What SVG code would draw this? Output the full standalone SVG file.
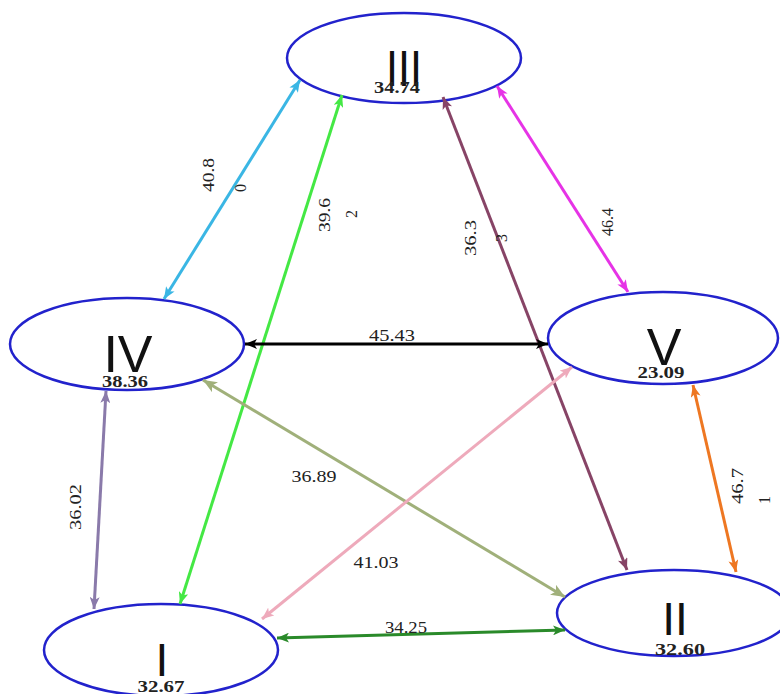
<svg xmlns="http://www.w3.org/2000/svg" width="780" height="694" viewBox="0 0 780 694">
  <style>
    .node ellipse { fill: #ffffff; stroke: #2222cc; stroke-width: 2.5; }
    .roman { font-family: "Liberation Sans", Arial, sans-serif; fill: #111111; text-anchor: middle; }
    .val { font-family: "Liberation Serif", "Times New Roman", "DejaVu Serif", serif; font-weight: bold; font-size: 16px; fill: #222222; text-anchor: middle; }
    .elabel { font-family: "Liberation Serif", "Times New Roman", "DejaVu Serif", serif; font-size: 16px; fill: #222222; text-anchor: middle; }
    .edge { fill: none; stroke-width: 3; }
  </style>
  <defs>
    <marker id="m-cyan" viewBox="0 0 12 10" refX="12" refY="5" markerWidth="12" markerHeight="10" markerUnits="userSpaceOnUse" orient="auto-start-reverse"><path d="M0,0 L12,5 L0,10 L3,5 Z" fill="#3ab6e4"/></marker>
    <marker id="m-lime" viewBox="0 0 12 10" refX="12" refY="5" markerWidth="12" markerHeight="10" markerUnits="userSpaceOnUse" orient="auto-start-reverse"><path d="M0,0 L12,5 L0,10 L3,5 Z" fill="#44e844"/></marker>
    <marker id="m-brown" viewBox="0 0 12 10" refX="12" refY="5" markerWidth="12" markerHeight="10" markerUnits="userSpaceOnUse" orient="auto-start-reverse"><path d="M0,0 L12,5 L0,10 L3,5 Z" fill="#874466"/></marker>
    <marker id="m-magenta" viewBox="0 0 12 10" refX="12" refY="5" markerWidth="12" markerHeight="10" markerUnits="userSpaceOnUse" orient="auto-start-reverse"><path d="M0,0 L12,5 L0,10 L3,5 Z" fill="#e633e6"/></marker>
    <marker id="m-black" viewBox="0 0 12 10" refX="12" refY="5" markerWidth="12" markerHeight="10" markerUnits="userSpaceOnUse" orient="auto-start-reverse"><path d="M0,0 L12,5 L0,10 L3,5 Z" fill="#000000"/></marker>
    <marker id="m-lavender" viewBox="0 0 12 10" refX="12" refY="5" markerWidth="12" markerHeight="10" markerUnits="userSpaceOnUse" orient="auto-start-reverse"><path d="M0,0 L12,5 L0,10 L3,5 Z" fill="#8a7aaa"/></marker>
    <marker id="m-olive" viewBox="0 0 12 10" refX="12" refY="5" markerWidth="14" markerHeight="12" markerUnits="userSpaceOnUse" orient="auto-start-reverse"><path d="M0,0 L12,5 L0,10 L3,5 Z" fill="#a0b07a"/></marker>
    <marker id="m-pink" viewBox="0 0 12 10" refX="12" refY="5" markerWidth="12" markerHeight="10" markerUnits="userSpaceOnUse" orient="auto-start-reverse"><path d="M0,0 L12,5 L0,10 L3,5 Z" fill="#eeaabb"/></marker>
    <marker id="m-orange" viewBox="0 0 12 10" refX="12" refY="5" markerWidth="12" markerHeight="10" markerUnits="userSpaceOnUse" orient="auto-start-reverse"><path d="M0,0 L12,5 L0,10 L3,5 Z" fill="#ee7722"/></marker>
    <marker id="m-dkgreen" viewBox="0 0 12 10" refX="12" refY="5" markerWidth="12" markerHeight="10" markerUnits="userSpaceOnUse" orient="auto-start-reverse"><path d="M0,0 L12,5 L0,10 L3,5 Z" fill="#2a8a2a"/></marker>
  </defs>

  <rect width="780" height="694" fill="#ffffff"/>

  <!-- nodes: ellipse, roman numeral, value -->
  <g id="node-III" class="node">
    <ellipse cx="404" cy="58" rx="117" ry="45"/>
    <text class="roman" x="404" y="86" font-size="50" textLength="36" lengthAdjust="spacingAndGlyphs">III</text>
    <text class="val" x="397" y="93" textLength="46" lengthAdjust="spacingAndGlyphs">34.74</text>
  </g>
  <g id="node-IV" class="node">
    <ellipse cx="127" cy="344" rx="117" ry="46"/>
    <text class="roman" x="128" y="372" font-size="52">IV</text>
    <text class="val" x="125" y="387" textLength="46" lengthAdjust="spacingAndGlyphs">38.36</text>
  </g>
  <g id="node-V" class="node">
    <ellipse cx="663" cy="338" rx="115" ry="46"/>
    <text class="roman" x="664" y="365" font-size="52">V</text>
    <text class="val" x="661" y="378" textLength="47" lengthAdjust="spacingAndGlyphs">23.09</text>
  </g>
  <g id="node-I" class="node">
    <ellipse cx="161" cy="650" rx="117" ry="46"/>
    <text class="roman" x="162" y="676" font-size="46">I</text>
    <text class="val" x="161" y="692" textLength="47" lengthAdjust="spacingAndGlyphs">32.67</text>
  </g>
  <g id="node-II" class="node">
    <ellipse cx="674" cy="613" rx="117" ry="43"/>
    <text class="roman" x="675" y="635" font-size="46">II</text>
    <text class="val" x="680" y="655" textLength="50" lengthAdjust="spacingAndGlyphs">32.60</text>
  </g>

  <!-- connectors: double-headed arrows with weight labels -->
  <g id="connectors">
    <line class="edge" x1="164" y1="299" x2="300" y2="80" stroke="#3ab6e4" marker-start="url(#m-cyan)" marker-end="url(#m-cyan)"/>
    <line class="edge" x1="180" y1="604" x2="342" y2="95" stroke="#44e844" marker-start="url(#m-lime)" marker-end="url(#m-lime)"/>
    <line class="edge" x1="627" y1="570" x2="443" y2="97" stroke="#874466" stroke-width="2.5" marker-start="url(#m-brown)" marker-end="url(#m-brown)"/>
    <line class="edge" x1="628" y1="292" x2="497" y2="86" stroke="#e633e6" marker-start="url(#m-magenta)" marker-end="url(#m-magenta)"/>
    <line class="edge" x1="245" y1="344" x2="548" y2="344" stroke="#000000" stroke-width="2.5" marker-start="url(#m-black)" marker-end="url(#m-black)"/>
    <line class="edge" x1="106" y1="391" x2="94" y2="609" stroke="#8a7aaa" marker-start="url(#m-lavender)" marker-end="url(#m-lavender)"/>
    <line class="edge" x1="203" y1="380" x2="565" y2="597" stroke="#a0b07a" stroke-width="4" marker-start="url(#m-olive)" marker-end="url(#m-olive)"/>
    <line class="edge" x1="572" y1="367" x2="262" y2="619" stroke="#eeaabb" marker-start="url(#m-pink)" marker-end="url(#m-pink)"/>
    <line class="edge" x1="693" y1="385" x2="736" y2="572" stroke="#ee7722" marker-start="url(#m-orange)" marker-end="url(#m-orange)"/>
    <line class="edge" x1="277" y1="638" x2="565" y2="630" stroke="#2a8a2a" stroke-width="3.5" marker-start="url(#m-dkgreen)" marker-end="url(#m-dkgreen)"/>

    <text class="elabel" transform="translate(214,175) rotate(-90)" textLength="34" lengthAdjust="spacingAndGlyphs">40.8</text>
    <text class="elabel" transform="translate(246,188) rotate(-90)">0</text>
    <text class="elabel" transform="translate(330,215) rotate(-90)" textLength="34" lengthAdjust="spacingAndGlyphs">39.6</text>
    <text class="elabel" transform="translate(357,214) rotate(-90)">2</text>
    <text class="elabel" transform="translate(476,238) rotate(-90)" textLength="36" lengthAdjust="spacingAndGlyphs">36.3</text>
    <text class="elabel" transform="translate(507,238) rotate(-90)">3</text>
    <text class="elabel" transform="translate(613,222) rotate(-90)" textLength="28" lengthAdjust="spacingAndGlyphs">46.4</text>
    <text class="elabel" transform="translate(81,507) rotate(-90)" textLength="46" lengthAdjust="spacingAndGlyphs">36.02</text>
    <text class="elabel" transform="translate(743,486) rotate(-90)" textLength="36" lengthAdjust="spacingAndGlyphs">46.7</text>
    <text class="elabel" transform="translate(770,500) rotate(-90)">1</text>
    <text class="elabel" x="392" y="341" textLength="46" lengthAdjust="spacingAndGlyphs">45.43</text>
    <text class="elabel" x="314" y="482" textLength="45" lengthAdjust="spacingAndGlyphs">36.89</text>
    <text class="elabel" x="376" y="568" textLength="45" lengthAdjust="spacingAndGlyphs">41.03</text>
    <text class="elabel" x="406" y="633" textLength="42" lengthAdjust="spacingAndGlyphs">34.25</text>
  </g>
</svg>
